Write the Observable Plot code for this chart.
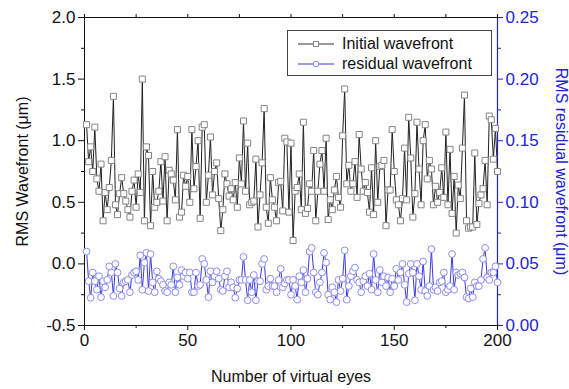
<!DOCTYPE html>
<html><head><meta charset="utf-8">
<script src="https://cdn.jsdelivr.net/npm/d3@7"></script>
<script src="https://cdn.jsdelivr.net/npm/@observablehq/plot@0.6"></script>
<style>
body{margin:0;background:#fff;}
#wrap{position:relative;width:569px;height:389px;font-family:"Liberation Sans",Arial,sans-serif;}
#legend{position:absolute;left:287px;top:30px;width:205px;height:46px;border:1px solid #444;background:#fff;box-sizing:border-box;font-size:16px;color:#111;}
#legend .row{position:absolute;left:8px;height:19px;display:flex;align-items:center;white-space:nowrap;}
#legend svg{margin-right:6px;}
</style></head><body><div id="wrap"></div>
<script>
// x-axis ticks (virtual eye number)
const xTicks = [0, 50, 100, 150, 200];
const xMinorTicks = [25, 75, 125, 175];
const topTicks = [0, 25, 50, 75, 100, 125, 150, 175, 200];
// left axis (µm)
const leftTicks = [-0.5, 0.0, 0.5, 1.0, 1.5, 2.0];
const leftMinorTicks = [-0.25, 0.25, 0.75, 1.25, 1.75];
// right axis (µm)
const rightTicks = [0.00, 0.05, 0.10, 0.15, 0.20, 0.25];
const rightMinorTicks = [0.025, 0.075, 0.125, 0.175, 0.225];

// RMS initial wavefront, eyes 1..200 (left axis)
const initialWF = [
 1.13,0.83,0.95,0.75,1.11,0.69,0.59,0.81,0.35,0.58,
 0.44,0.62,0.84,1.36,0.48,0.40,0.57,0.70,0.57,0.51,
 0.44,0.38,0.59,0.68,0.46,0.73,0.58,1.50,0.35,0.95,
 0.88,0.31,0.75,0.46,0.50,0.59,0.83,0.51,0.87,0.35,
 0.76,0.73,0.68,0.52,1.09,0.38,0.42,0.72,0.63,0.71,
 0.50,1.09,0.61,0.79,1.00,0.37,1.11,1.13,0.50,0.72,
 1.03,0.56,0.75,0.82,0.53,0.27,0.44,0.73,0.65,0.55,
 0.61,0.52,0.66,0.46,0.86,0.65,1.16,0.59,0.98,0.48,
 0.50,0.51,0.85,0.30,0.56,0.82,1.26,0.46,0.33,0.70,
 0.52,0.46,0.35,0.66,0.67,0.43,1.02,0.99,0.42,0.98,
 0.19,0.59,0.62,0.73,0.44,1.15,0.41,0.45,0.65,0.59,
 0.92,0.35,0.59,0.81,0.92,0.59,1.02,0.36,0.52,0.44,
 0.60,0.71,0.54,0.46,1.04,1.42,0.65,0.80,0.59,0.65,
 0.83,0.54,1.05,0.77,0.59,0.66,0.58,0.42,0.78,0.40,
 1.00,0.50,0.79,0.80,0.84,0.31,0.60,0.60,1.09,0.75,
 0.52,0.48,0.35,0.53,0.94,0.52,1.19,0.86,0.38,0.57,
 1.15,0.77,0.48,1.00,1.13,0.69,0.84,0.77,0.48,0.63,
 0.50,0.58,0.78,0.54,1.07,0.48,0.93,0.41,0.71,0.25,
 0.64,0.53,0.94,1.37,0.35,0.29,0.30,0.30,0.90,0.32,
 0.49,0.56,0.61,0.84,0.48,1.20,1.17,0.85,1.10,0.75
];

// RMS residual wavefront, eyes 1..200 (right axis)
const residualWF = [
 0.060,0.036,0.0225,0.043,0.036,0.029,0.040,0.023,0.036,0.031,
 0.037,0.048,0.043,0.024,0.050,0.043,0.030,0.024,0.035,0.036,
 0.037,0.027,0.041,0.043,0.044,0.037,0.057,0.029,0.051,0.059,
 0.028,0.058,0.035,0.027,0.044,0.038,0.036,0.033,0.028,0.027,
 0.035,0.033,0.048,0.027,0.039,0.033,0.045,0.040,0.043,0.038,
 0.043,0.027,0.027,0.043,0.032,0.033,0.054,0.050,0.037,0.023,
 0.044,0.035,0.040,
 0.044,0.038,0.029,0.028,0.040,0.044,0.031,0.035,0.031,0.0225,
 0.030,0.037,0.037,0.0557,0.037,0.0205,0.037,0.027,0.041,0.0205,
 0.036,0.036,0.050,0.054,0.029,0.032,0.038,0.032,0.032,0.027,
 0.037,0.046,0.031,0.034,0.037,0.037,0.025,0.037,0.032,0.021,
 0.040,0.035,0.045,0.027,0.038,0.060,0.063,0.043,0.027,0.025,
 0.035,0.043,0.059,0.051,0.025,0.021,0.031,0.027,0.019,0.037,
 0.028,0.038,0.061,0.021,0.032,0.040,0.044,
 0.047,0.037,0.035,0.027,0.036,0.040,0.032,0.042,0.029,0.058,
 0.037,0.027,0.045,0.035,0.040,0.032,0.039,0.027,0.038,0.032,
 0.046,0.037,0.043,0.050,0.033,0.019,0.042,0.050,0.043,0.0205,
 0.050,0.040,0.029,0.052,0.028,0.024,0.032,0.062,0.029,0.031,
 0.028,0.035,0.036,0.043,0.027,0.029,0.032,0.058,0.029,0.043,
 0.041,0.042,0.043,0.039,0.023,0.022,0.030,0.023,0.035,0.032,
 0.032,0.037,0.054,0.063,0.039,0.037,0.043,0.043,0.048,0.035
];

const seriesNames = ["Initial wavefront", "residual wavefront"];
const axisTitles = {left: "RMS Wavefront (\u03bcm)", right: "RMS residual wavefront (\u03bcm)", bottom: "Number of virtual eyes"};

const BLUE = "#2323d6";
const BLUE_LINE = "#3a3ae0";
const BLUE_DOT = "#8c8cf2";
const GRAY_SQ = "#858585";

// map right-axis values onto the left scale (right 0..0.25 <-> left -0.5..2.0)
const toLeft = v => -0.5 + v * 10;
const fromLeft = t => (t + 0.5) / 10;

const chart = Plot.plot({
  width: 569, height: 389,
  marginLeft: 84, marginRight: 72, marginTop: 17, marginBottom: 64,
  x: {domain: [0, 200]},
  y: {domain: [-0.5, 2.0]},
  style: {fontFamily: "'Liberation Sans', Arial, sans-serif", fontSize: "16px", background: "white", color: "#111"},
  marks: [
    Plot.frame({stroke: "#111"}),
    Plot.ruleX([200], {stroke: BLUE, strokeWidth: 1.2}),
    Plot.axisX(xTicks, {anchor: "bottom", tickSize: 5, tickPadding: 3, label: null, fontSize: 17, tickFormat: d => String(d)}),
    Plot.axisX(xMinorTicks, {anchor: "bottom", tickSize: 3, label: null, tickFormat: () => ""}),
    Plot.axisX(topTicks, {anchor: "top", tickSize: 4, label: null, tickFormat: () => ""}),
    Plot.axisY(leftTicks, {anchor: "left", tickSize: 6, tickPadding: 3, label: null, fontSize: 17, tickFormat: d => d.toFixed(1)}),
    Plot.axisY(leftMinorTicks, {anchor: "left", tickSize: 3, label: null, tickFormat: () => ""}),
    Plot.axisY(rightTicks.map(toLeft), {anchor: "right", tickSize: 5, tickPadding: 3, label: null, fontSize: 17, color: BLUE, tickFormat: t => fromLeft(t).toFixed(2)}),
    Plot.axisY(rightMinorTicks.map(toLeft), {anchor: "right", tickSize: 3, label: null, color: BLUE, tickFormat: () => ""}),
    Plot.text([axisTitles.left], {frameAnchor: "left", textAnchor: "middle", rotate: -90, dx: -62, text: d => d, fontSize: 16, fill: "#111"}),
    Plot.text([axisTitles.bottom], {frameAnchor: "bottom", textAnchor: "middle", dy: 56, text: d => d, fontSize: 16, fill: "#111"}),
    Plot.text([axisTitles.right], {frameAnchor: "right", textAnchor: "middle", rotate: 90, dx: 64, text: d => d, fontSize: 16, fill: BLUE}),
    Plot.line(initialWF, {x: (d, i) => i + 1, y: d => d, stroke: "#222", strokeWidth: 1}),
    Plot.dot(initialWF, {x: (d, i) => i + 1, y: d => d, symbol: "square", r: 3.4, stroke: GRAY_SQ, fill: "white", strokeWidth: 1}),
    Plot.line(residualWF, {x: (d, i) => i + 1, y: d => toLeft(d), stroke: BLUE_LINE, strokeWidth: 1}),
    Plot.dot(residualWF, {x: (d, i) => i + 1, y: d => toLeft(d), r: 3.4, stroke: BLUE_DOT, fill: "white", strokeWidth: 1})
  ]
});

const wrap = document.getElementById("wrap");
wrap.appendChild(chart);

// legend
const legend = document.createElement("div");
legend.id = "legend";
const samples = [
  {name: seriesNames[0], line: "#333", mark: `<rect x="17.5" y="4.5" width="5" height="5" fill="white" stroke="${GRAY_SQ}"/>`},
  {name: seriesNames[1], line: BLUE_LINE, mark: `<circle cx="20" cy="7" r="2.8" fill="white" stroke="${BLUE_DOT}"/>`}
];
samples.forEach((s, k) => {
  const row = document.createElement("div");
  row.className = "row";
  row.style.top = (k === 0 ? 3 : 23) + "px";
  row.innerHTML = `<svg width="40" height="14"><line x1="2" y1="7" x2="38" y2="7" stroke="${s.line}" stroke-width="1"/>${s.mark}</svg><span>${s.name}</span>`;
  legend.appendChild(row);
});
wrap.appendChild(legend);
</script></body></html>
